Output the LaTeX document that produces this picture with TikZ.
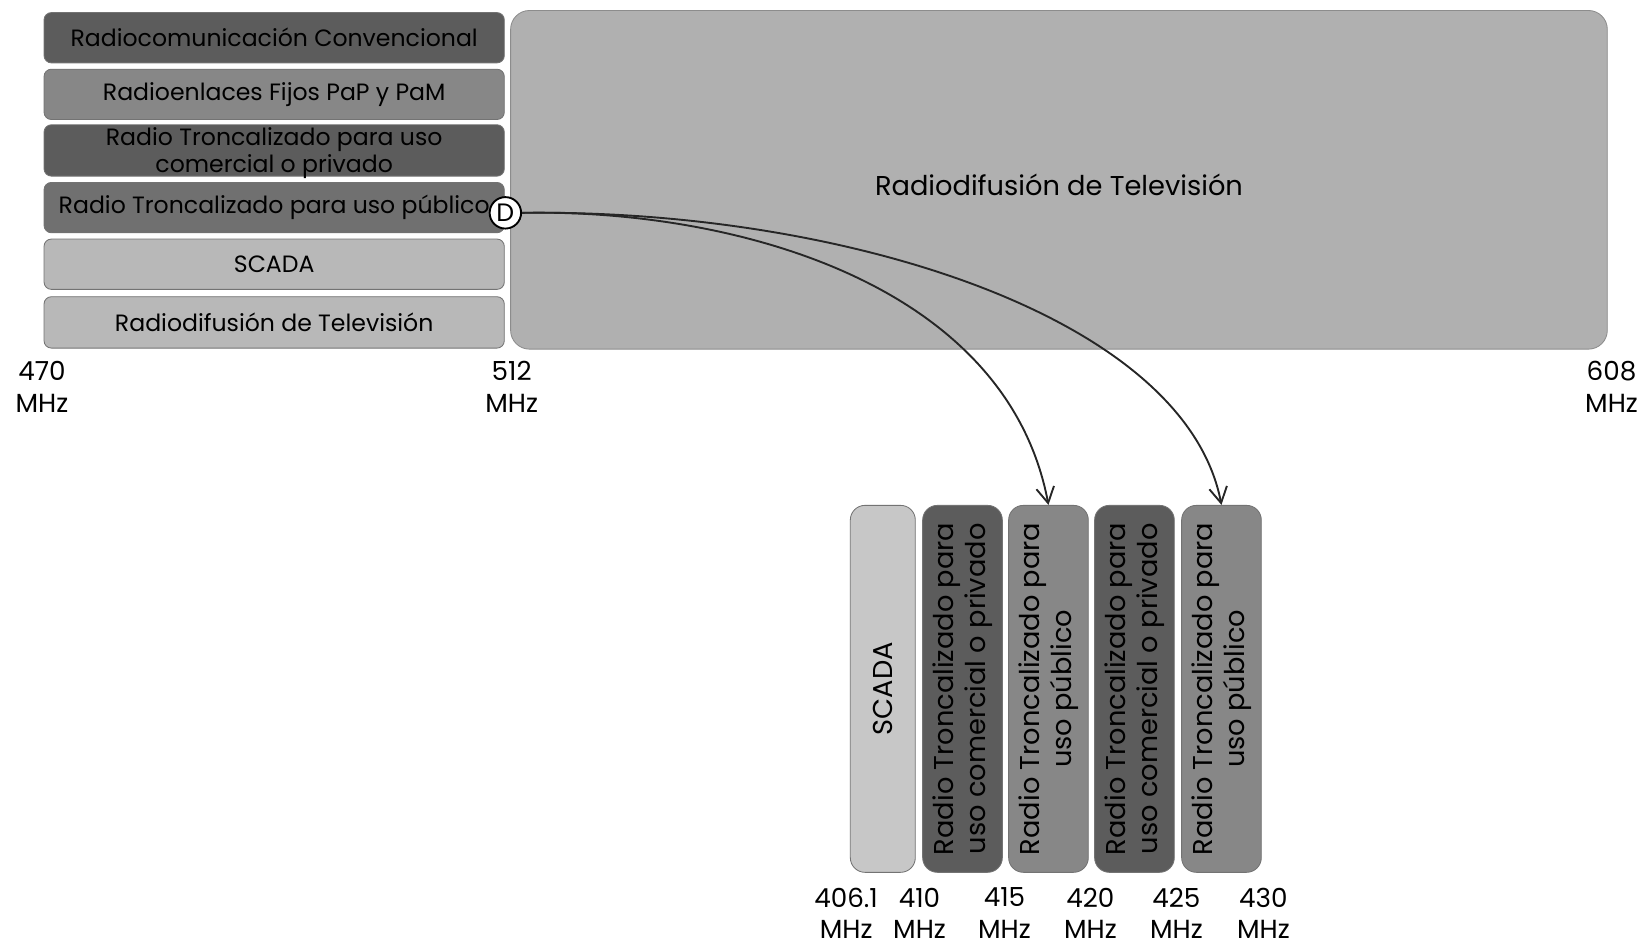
\documentclass[tikz,border=0pt]{standalone}
\usepackage{fontspec}
\setmainfont{Poppins}
\usetikzlibrary{arrows.meta}
\definecolor{bdark}{gray}{0.36}
\definecolor{bmed}{gray}{0.53}
\definecolor{bpub}{gray}{0.44}
\definecolor{blight}{gray}{0.72}
\definecolor{bbig}{gray}{0.69}
\definecolor{bscada}{gray}{0.78}
\begin{document}
\begin{tikzpicture}[x=1pt,y=-1pt,
  band/.style={draw=black!55, line width=0.8pt, rounded corners=7pt, minimum width=439pt, minimum height=48pt, inner sep=0pt, align=center, font=\fontsize{22.5}{26}\selectfont},
  vband/.style={draw=black!55, line width=0.8pt, rounded corners=14pt, minimum width=350pt, inner sep=0pt, align=center, rotate=90, font=\fontsize{26}{30}\selectfont},
  axlab/.style={align=center, inner sep=0pt, font=\fontsize{25}{30}\selectfont},
  link/.style={draw=black!85, line width=1.8pt, -{Straight Barb[length=15pt,width=17pt,line width=1.8pt]}}
]
\useasboundingbox (0,0) rectangle (1568,901);
% left column
\node[band, fill=bdark] (r1) at (261.5,36) {Radiocomunicación Convencional};
\node[band, fill=bmed] (r2) at (261.5,90) {Radioenlaces Fijos PaP y PaM};
\node[band, fill=bdark, minimum height=49pt] (r3) at (261.5,143.5) {};
\node[inner sep=0pt, align=center, font=\fontsize{22.5}{26}\selectfont] (r3t) at (261.5,146) {Radio Troncalizado para uso\\comercial o privado};
\node[band, fill=bpub] (r4) at (261.5,198) {Radio Troncalizado para uso público};
\node[band, fill=blight] (r5) at (261.5,252) {SCADA};
\node[band, fill=blight, minimum height=49pt] (r6) at (261.5,307.5) {Radiodifusión de Televisión};
% big box
\node[draw=black!45, line width=0.8pt, fill=bbig, rounded corners=18pt, minimum width=1046pt, minimum height=323pt, inner sep=0pt] (tv) at (1010,171.5) {};
\node[inner sep=0pt, font=\fontsize{26}{30}\selectfont] (tvl) at (1010,176) {Radiodifusión de Televisión};
% D marker
\node[circle, draw=black, line width=1.8pt, fill=white, minimum size=30pt, inner sep=0pt, font=\fontsize{24}{24}\selectfont] (D) at (482,203) {D};
% axis labels top
\node[axlab] (f470) at (40,369) {470\\MHz};
\node[axlab] (f512) at (488,369) {512\\MHz};
\node[axlab] (f608) at (1537,369) {608\\MHz};
% bottom bands
\node[vband, fill=bscada, minimum height=62pt] (b1) at (842,657) {SCADA};
\node[vband, fill=bdark, minimum height=76pt] (b2) at (918,657) {Radio Troncalizado para\\uso comercial o privado};
\node[vband, fill=bmed, minimum height=76pt] (b3) at (1000,657) {Radio Troncalizado para\\uso público};
\node[vband, fill=bdark, minimum height=76pt] (b4) at (1082,657) {Radio Troncalizado para\\uso comercial o privado};
\node[vband, fill=bmed, minimum height=76pt] (b5) at (1165,657) {Radio Troncalizado para\\uso público};
% bottom axis labels
\node[axlab] (g1) at (807,871) {406.1\\MHz};
\node[axlab] (g2) at (877,871) {410\\MHz};
\node[axlab] (g3) at (958,871) {415\\MHz};
\node[axlab] (g4) at (1040,871) {420\\MHz};
\node[axlab] (g5) at (1122,871) {425\\MHz};
\node[axlab] (g6) at (1205,871) {430\\MHz};
% connectors
\draw[link] (D.east) .. controls (700,199) and (960,270) .. (b3.east);
\draw[link] (D.east) .. controls (800,199) and (1130,300) .. (b5.east);
\end{tikzpicture}
\end{document}
